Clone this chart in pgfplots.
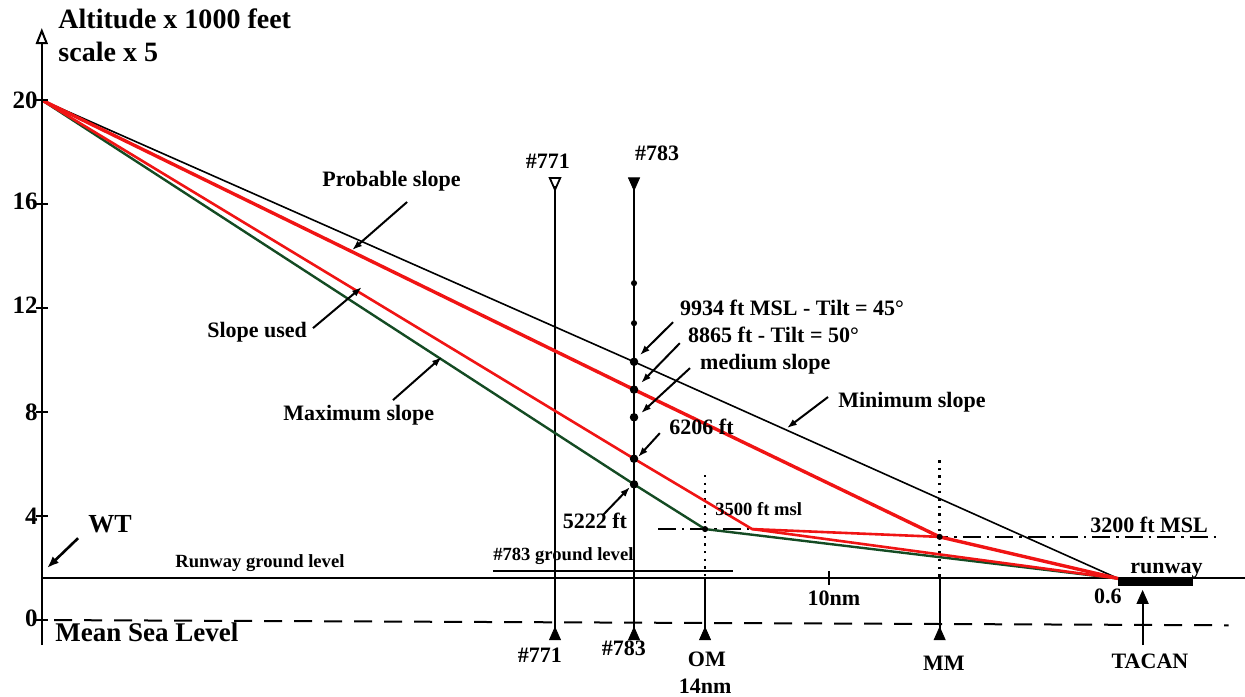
\documentclass[border=0pt]{standalone}
\usepackage{pgfplots}
\pgfplotsset{compat=1.18}
\usepackage{fontspec}
\setmainfont{Liberation Serif}
\usetikzlibrary{arrows.meta}
\definecolor{slopered}{RGB}{240,20,20}
\definecolor{maxgreen}{RGB}{20,75,35}

\begin{document}
\begin{tikzpicture}[
  lbl/.style={font=\fontsize{11}{12}\selectfont\bfseries, inner sep=0pt},
  small/.style={font=\fontsize{9.3}{10}\selectfont\bfseries, inner sep=0pt},
  pointer/.style={line width=1pt, -{Latex[length=5pt,width=3.5pt]}}]
\begin{axis}[
  scale only axis, width=622.5pt, height=348pt,
  hide axis, clip=false,
  x dir=reverse,               % x = distance from TACAN in nm
  xmin=-3.53, xmax=36.96,
  ymin=-2.92, ymax=23.85,      % y = altitude x 1000 ft
  ]

% ground, sea level and reference levels
\addplot[black, line width=1pt] coordinates {(35.6,1.6) (-3.53,1.6)};
\addplot[black, line width=1pt, dash pattern=on 9pt off 6pt] coordinates {(35.2,0) (-3.0,-0.2)};
\addplot[black, line width=0.8pt] coordinates {(20.93,1.88) (13.12,1.88)};
\addplot[black, line width=0.9pt, dash pattern=on 9pt off 3pt on 1.2pt off 3pt] coordinates {(15.56,3.5) (12.5,3.5)};
\addplot[black, line width=0.9pt, dash pattern=on 9pt off 3pt on 1.2pt off 3pt] coordinates {(6.7,3.2) (-2.65,3.2)};
\addplot[black, line width=3.5pt] coordinates {(0.6,1.45) (-1.84,1.45)};
\addplot[black, line width=0.9pt] coordinates {(10,1.35) (10,1.9)};

% stations
\addplot[black, line width=0.9pt] coordinates {(18.91,16.7) (18.91,-0.75)};
\addplot[black, line width=1.1pt] coordinates {(16.34,16.7) (16.34,-0.75)};
\addplot[black, line width=1.2pt, dash pattern=on 1.2pt off 2.6pt] coordinates {(14.03,5.58) (14.03,1.6)};
\addplot[black, line width=1.1pt] coordinates {(14.03,1.6) (14.03,-0.75)};
\addplot[black, line width=1.2pt, dash pattern=on 1.2pt off 2.6pt] coordinates {(6.4,6.15) (6.4,1.6)};
\addplot[black, line width=1.1pt] coordinates {(6.4,1.6) (6.4,-0.75)};
\addplot[black, line width=1.1pt] coordinates {(-0.2,-0.96) (-0.2,0.7)};

% slopes
\addplot[black, line width=0.8pt] coordinates {(35.6,20) (16.34,9.934) (0.6,1.6)};
\addplot[maxgreen, line width=1.2pt] coordinates {(35.6,20) (16.34,5.222) (14.03,3.5) (0.6,1.6)};
\addplot[slopered, line width=1.3pt] coordinates {(35.6,20) (16.34,6.206) (12.5,3.5) (6.4,3.2)};
\addplot[slopered, line width=1.3pt] coordinates {(12.5,3.5) (0.6,1.6)};
\addplot[slopered, line width=1.7pt] coordinates {(35.6,20) (16.34,8.865) (6.4,3.2) (0.6,1.6)};

% points
\addplot[only marks, mark=*, mark size=1.9pt, black] coordinates {
  (16.34,9.934) (16.34,8.865) (16.34,7.8) (16.34,6.206) (16.34,5.222)};
\addplot[only marks, mark=*, mark size=1.3pt, black] coordinates {
  (16.34,12.96) (16.34,11.42) (14.03,3.5) (6.4,3.2)};
\addplot[only marks, mark=triangle, mark size=3pt, mark options={rotate=180, yscale=1.3, fill=white, line width=0.9pt}] coordinates {(18.91,16.85)};
\addplot[only marks, mark=triangle*, mark size=3.2pt, mark options={rotate=180, yscale=1.3}] coordinates {(16.34,16.85)};
\addplot[only marks, mark=triangle*, mark size=3.2pt, mark options={yscale=1.3}] coordinates {
  (18.91,-0.6) (16.34,-0.6) (14.03,-0.6) (6.4,-0.6) (-0.2,0.8)};

% y axis
\draw[line width=1pt, -{Triangle[open, length=8pt, width=6pt]}] (35.6,-0.96) -- (35.6,22.77);
\draw[line width=1pt] (35.8,20) -- (35.4,20);
\draw[line width=1pt] (35.8,16) -- (35.4,16);
\draw[line width=1pt] (35.8,12) -- (35.4,12);
\draw[line width=1pt] (35.8,8) -- (35.4,8);
\draw[line width=1pt] (35.8,4) -- (35.4,4);
\draw[line width=1pt] (35.8,0) -- (35.4,0);
\node[font=\fontsize{12.5}{12}\selectfont\bfseries, anchor=east, inner sep=0pt] at (35.72,20) {20};
\node[font=\fontsize{12.5}{12}\selectfont\bfseries, anchor=east, inner sep=0pt] at (35.72,16.1) {16};
\node[font=\fontsize{12.5}{12}\selectfont\bfseries, anchor=east, inner sep=0pt] at (35.72,12.1) {12};
\node[font=\fontsize{12.5}{12}\selectfont\bfseries, anchor=east, inner sep=0pt] at (35.72,8) {8};
\node[font=\fontsize{12.5}{12}\selectfont\bfseries, anchor=east, inner sep=0pt] at (35.72,4) {4};
\node[font=\fontsize{12.5}{12}\selectfont\bfseries, anchor=east, inner sep=0pt] at (35.72,0.05) {0};

% titles
\node[font=\fontsize{14}{14}\selectfont\bfseries, anchor=base west, inner sep=0pt] at (35.07,22.77) {Altitude x 1000 feet};
\node[font=\fontsize{14}{14}\selectfont\bfseries, anchor=base west, inner sep=0pt] at (35.07,21.5) {scale x 5};
\node[font=\fontsize{13}{13}\selectfont\bfseries, anchor=base west, inner sep=0pt] at (34.1,3.35) {WT};
\draw[line width=1.3pt, -{Latex[length=6pt,width=4.5pt]}] (34.42,3.15) -- (35.43,2.0);
\node[font=\fontsize{13.5}{14}\selectfont\bfseries, anchor=base west, inner sep=0pt] at (35.17,-0.81) {Mean Sea Level};
\node[small, anchor=base west] at (31.27,2.04) {Runway ground level};
\node[small, anchor=base west] at (20.93,2.31) {\#783 ground level};
\node[small, anchor=base west] at (13.71,4.04) {3500 ft msl};
\node[lbl, anchor=base west] at (1.51,3.38) {3200 ft MSL};
\node[lbl, anchor=base west] at (0.21,1.81) {runway};
\node[lbl, anchor=base] at (0.93,0.65) {0.6};
\node[lbl, anchor=base] at (9.84,0.58) {10nm};

% station labels
\node[lbl, anchor=base] at (19.14,17.38) {\#771};
\node[lbl, anchor=base] at (15.59,17.69) {\#783};
\node[lbl, anchor=base] at (19.4,-1.65) {\#771};
\node[lbl, anchor=base] at (16.67,-1.35) {\#783};
\node[lbl, anchor=base] at (13.97,-1.77) {OM};
\node[lbl, anchor=base] at (14.03,-2.82) {14nm};
\node[lbl, anchor=base] at (6.26,-1.92) {MM};
\node[lbl, anchor=base] at (-0.44,-1.85) {TACAN};

% slope labels
\node[lbl, anchor=base west] at (26.49,16.69) {Probable slope};
\draw[pointer] (23.72,16.08) -- (25.51,14.23);
\node[lbl, anchor=base west] at (30.23,10.85) {Slope used};
\draw[pointer] (26.78,11.23) -- (25.19,12.81);
\node[lbl, anchor=base west] at (27.76,7.69) {Maximum slope};
\draw[pointer] (24.18,8.46) -- (22.59,10.12);
\node[lbl, anchor=base west] at (9.71,8.19) {Minimum slope};
\draw[pointer] (10.03,8.58) -- (11.37,7.38);

% readings at #783
\node[lbl, anchor=base west] at (14.85,11.73) {9934 ft MSL - Tilt = 45°};
\draw[pointer] (15.07,11.46) -- (16.15,10.19);
\node[lbl, anchor=base west] at (14.59,10.69) {8865 ft - Tilt = 50°};
\draw[pointer] (14.85,10.65) -- (16.11,9.12);
\node[lbl, anchor=base west] at (14.2,9.62) {medium slope};
\draw[pointer] (14.52,9.69) -- (16.11,7.96);
\node[lbl, anchor=base west] at (15.2,7.12) {6206 ft};
\draw[pointer] (15.5,7.19) -- (16.21,6.27);
\node[lbl, anchor=base] at (17.61,3.54) {5222 ft};
\draw[pointer] (17.35,4.04) -- (16.47,5.12);

\end{axis}
\pgfresetboundingbox
\path[use as bounding box] (current axis.south west) rectangle (current axis.north east);
\end{tikzpicture}
\end{document}
